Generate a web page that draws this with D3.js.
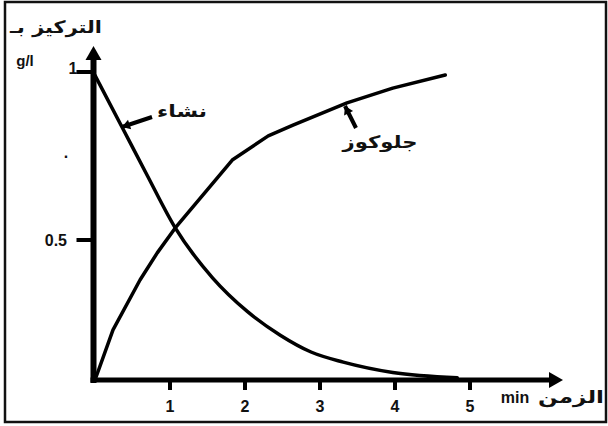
<!DOCTYPE html>
<html>
<head>
<meta charset="utf-8">
<script src="https://cdn.jsdelivr.net/npm/d3@7"></script>
<style>
  html, body { margin: 0; padding: 0; background: #fff; }
  svg { display: block; }
  text { font-weight: bold; fill: #111; }
  .ar { font-family: "DejaVu Sans", sans-serif; }
  .lat { font-family: "Liberation Sans", Arial, sans-serif; }
</style>
</head>
<body>
<div id="chart"></div>
<script>
// ---- data ----
const starchX = [0, 0.37, 0.69, 1.07, 1.57, 2.03, 2.47, 2.88, 3.31, 3.97, 4.83];
const starchY = [0.99, 0.832, 0.695, 0.536, 0.364, 0.245, 0.16, 0.1, 0.064, 0.027, 0.008];
const glucoseX = [0, 0.24, 0.6, 0.83, 1.07, 1.83, 2.31, 2.64, 3.36, 3.97, 4.67];
const glucoseY = [0, 0.179, 0.357, 0.454, 0.536, 0.738, 0.81, 0.842, 0.908, 0.952, 0.991];
const xTicks = [1, 2, 3, 4, 5];
const yTicks = [0.5, 1];
const yTickLabels = ["0.5", "1"];
const yDotTick = 0.75;
const starchLabel = "نشاء";
const glucoseLabel = "جلوكوز";
const yTitle = "التركيز بـ";
const yUnit = "g/l";
const xTitle = "الزمن";
const xUnit = "min";

const W = 608, H = 426;
const svg = d3.select("#chart").append("svg").attr("width", W).attr("height", H);

// frame
svg.append("rect").attr("x", 5).attr("y", 2).attr("width", 601).attr("height", 420)
  .attr("fill", "none").attr("stroke", "#111").attr("stroke-width", 2.5);

const x = d3.scaleLinear().domain([0, 5]).range([95, 470]);
const y = d3.scaleLinear().domain([0, 0.5, 1]).range([380, 240, 72]);

const ax0 = x(0) - 1.5, ay0 = y(0);

// axes lines
svg.append("line").attr("x1", ax0).attr("x2", ax0).attr("y1", ay0 + 3).attr("y2", 52)
  .attr("stroke", "#000").attr("stroke-width", 6);
svg.append("path").attr("d", `M${ax0},46 L${ax0 - 8},60 L${ax0 + 8},60 Z`).attr("fill", "#000");
svg.append("line").attr("x1", ax0 - 3).attr("x2", 556).attr("y1", ay0).attr("y2", ay0)
  .attr("stroke", "#000").attr("stroke-width", 5);
svg.append("path").attr("d", `M563,${ay0} L549,${ay0 - 8} L549,${ay0 + 8} Z`).attr("fill", "#000");

// x ticks
const xg = svg.append("g");
xTicks.forEach(t => {
  xg.append("line").attr("x1", x(t)).attr("x2", x(t)).attr("y1", ay0).attr("y2", ay0 + 10)
    .attr("stroke", "#000").attr("stroke-width", 4);
  xg.append("text").attr("class", "lat").attr("x", x(t)).attr("y", 412).attr("text-anchor", "middle")
    .attr("font-size", 16).text(t);
});

// y ticks
yTicks.forEach((t, i) => {
  svg.append("line").attr("x1", ax0 - 17).attr("x2", ax0).attr("y1", y(t)).attr("y2", y(t))
    .attr("stroke", "#000").attr("stroke-width", 4);
  svg.append("text").attr("class", "lat").attr("x", t === 1 ? 73 : 67).attr("y", y(t) + (t === 1 ? 2 : 6))
    .attr("text-anchor", t === 1 ? "middle" : "end").attr("font-size", 16).text(yTickLabels[i]);
});
svg.append("text").attr("class", "lat").attr("x", 66).attr("y", y(yDotTick) + 2).attr("text-anchor", "middle")
  .attr("font-size", 16).text(".");

// curves
const starch = starchX.map((v, i) => [v, starchY[i]]);
const glucose = glucoseX.map((v, i) => [v, glucoseY[i]]);
svg.append("path").datum(starch)
  .attr("d", d3.line().x(d => x(d[0])).y(d => y(d[1])).curve(d3.curveMonotoneX))
  .attr("fill", "none").attr("stroke", "#000").attr("stroke-width", 3.5).attr("stroke-linecap", "round");
svg.append("path").datum(glucose)
  .attr("d", d3.line().x(d => x(d[0])).y(d => y(d[1])).curve(d3.curveLinear))
  .attr("fill", "none").attr("stroke", "#000").attr("stroke-width", 3.5)
  .attr("stroke-linecap", "round").attr("stroke-linejoin", "round");

// annotations
function pointer(x1, y1, x2, y2) {
  svg.append("line").attr("x1", x1).attr("y1", y1).attr("x2", x2).attr("y2", y2)
    .attr("stroke", "#000").attr("stroke-width", 4);
  const a = Math.atan2(y2 - y1, x2 - x1), L = 8, Wd = 5;
  const bx = x2 - L * Math.cos(a), by = y2 - L * Math.sin(a);
  const px = -Math.sin(a) * Wd, py = Math.cos(a) * Wd;
  svg.append("path").attr("d", `M${x2},${y2} L${bx + px},${by + py} L${bx - px},${by - py} Z`).attr("fill", "#000");
}
function arText(tx, ty, size, len, str) {
  svg.append("text").attr("class", "ar").attr("x", tx).attr("y", ty).attr("text-anchor", "middle")
    .attr("font-size", size).attr("textLength", len).attr("lengthAdjust", "spacingAndGlyphs").text(str);
}
pointer(152, 117, 122, 127);
arText(182, 117, 17, 50, starchLabel);
pointer(356, 128, 345, 106);
arText(380, 148, 17, 75, glucoseLabel);

// axis titles
arText(56, 33, 17, 92, yTitle);
svg.append("text").attr("class", "lat").attr("x", 25).attr("y", 66).attr("text-anchor", "middle").attr("font-size", 15).text(yUnit);
svg.append("text").attr("class", "lat").attr("x", 515).attr("y", 403).attr("text-anchor", "middle").attr("font-size", 16).text(xUnit);
arText(571, 403, 17, 66, xTitle);
</script>
</body>
</html>
